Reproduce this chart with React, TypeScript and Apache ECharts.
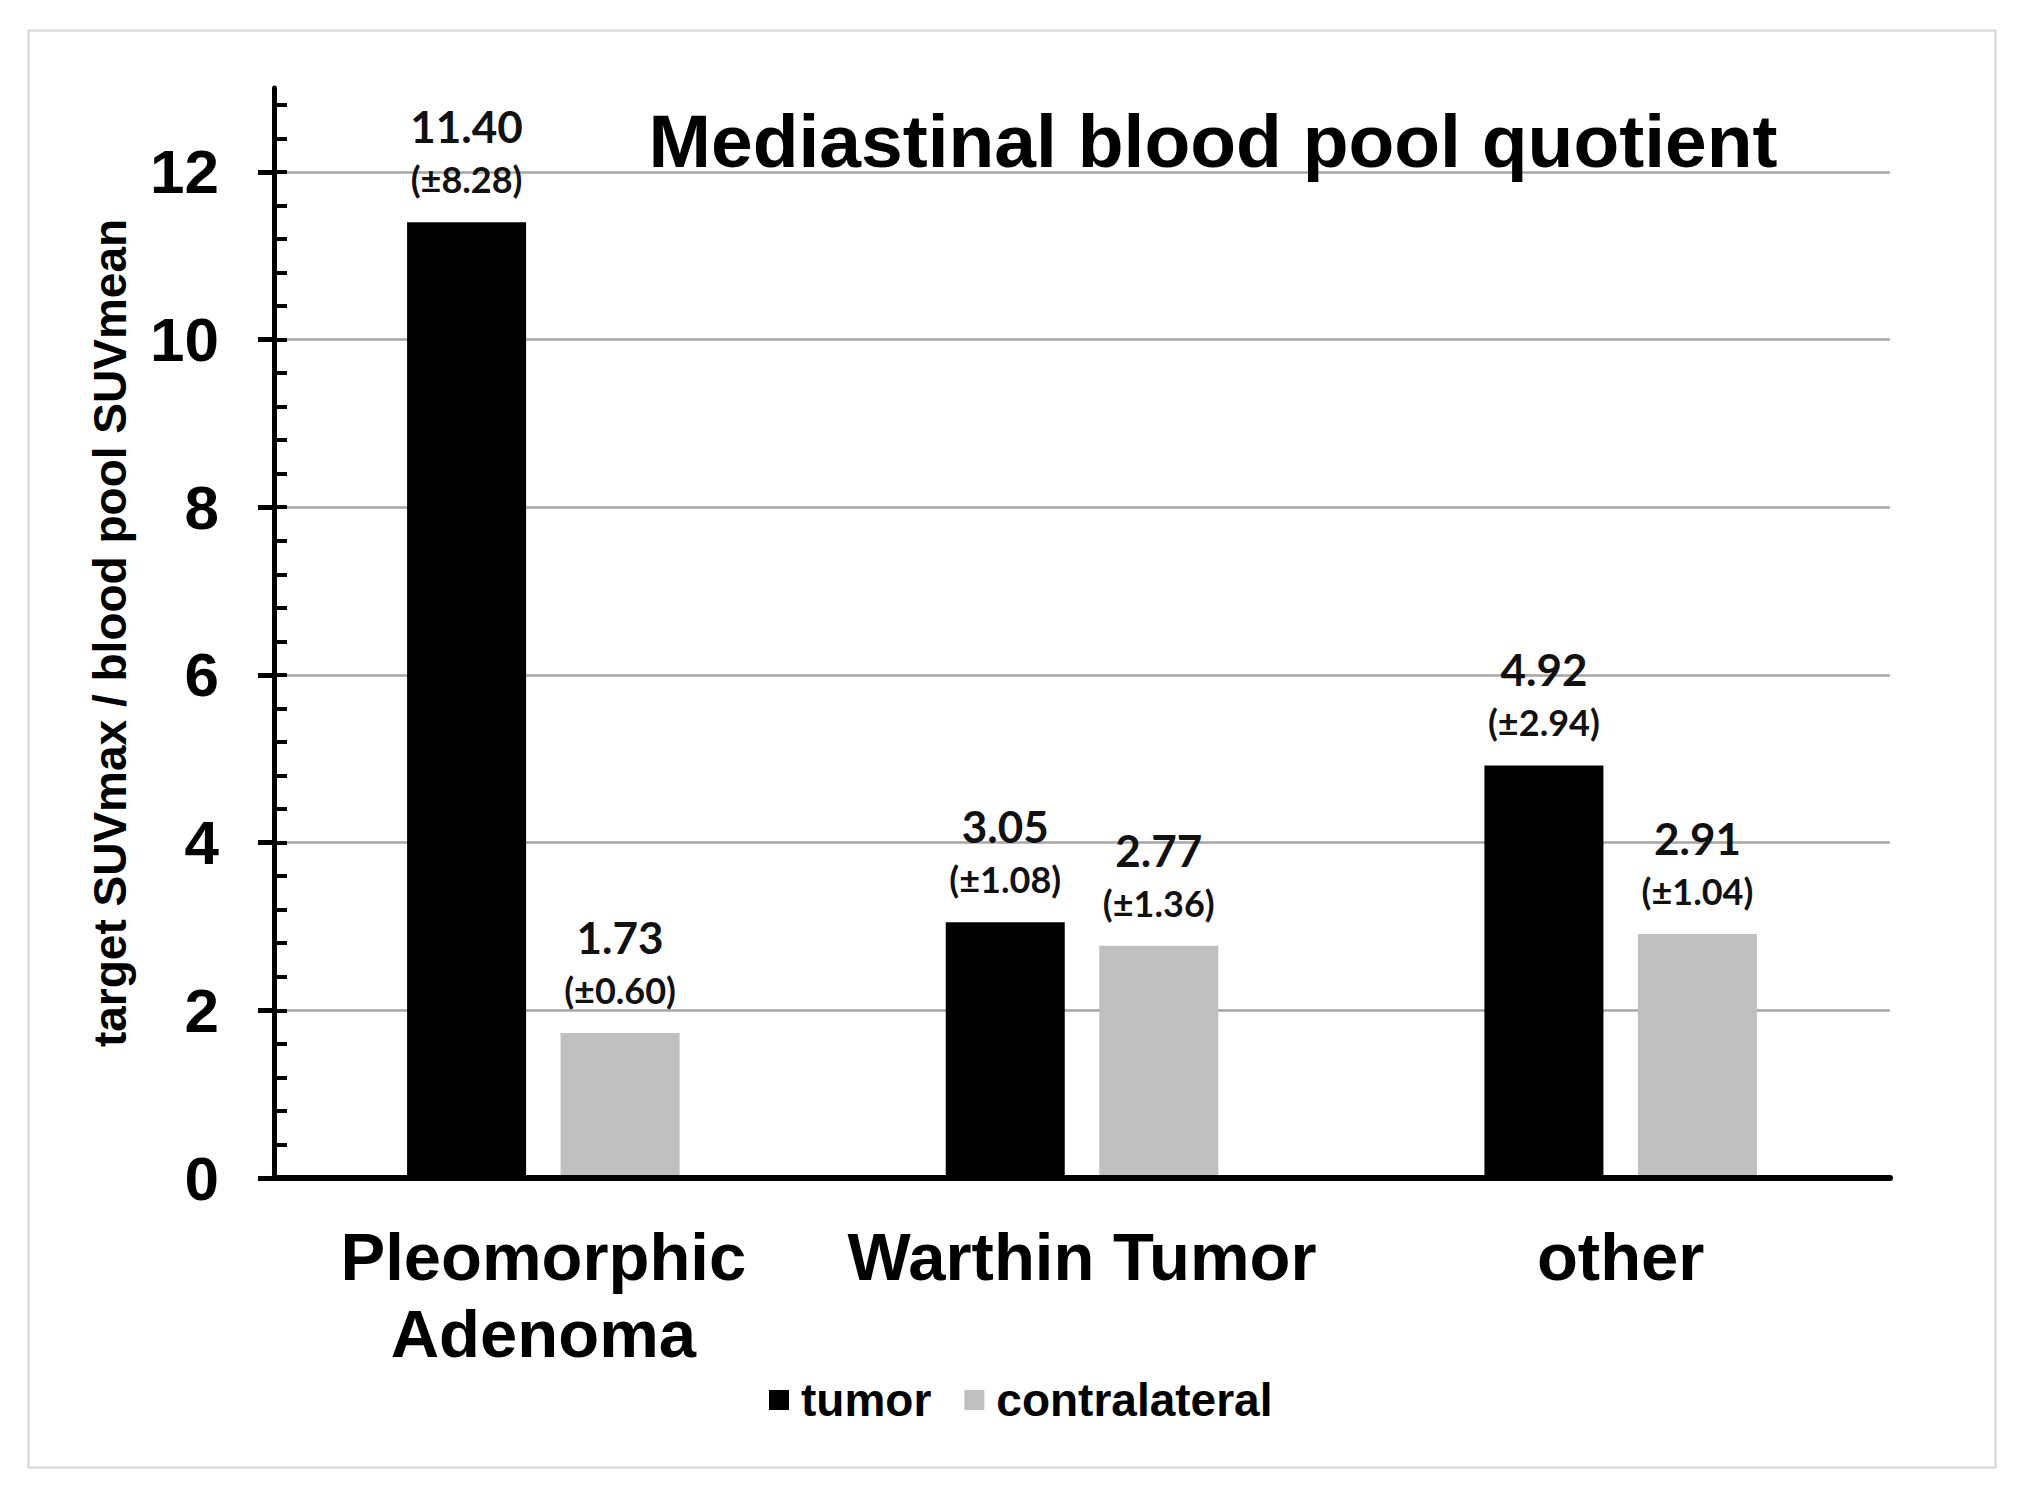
import React, { useEffect, useRef } from 'react';
import * as echarts from 'echarts';

const categories = ['Pleomorphic\nAdenoma', 'Warthin Tumor', 'other'];
const seriesNames = ['tumor', 'contralateral'];
const tumorMeans = [11.4, 3.05, 4.92];
const tumorSDs = [8.28, 1.08, 2.94];
const contraMeans = [1.73, 2.77, 2.91];
const contraSDs = [0.6, 1.36, 1.04];
const majorTicks = [0, 2, 4, 6, 8, 10, 12];
const minorTicks = [
  0, 0.4, 0.8, 1.2, 1.6, 2, 2.4, 2.8, 3.2, 3.6, 4, 4.4, 4.8, 5.2, 5.6, 6, 6.4,
  6.8, 7.2, 7.6, 8, 8.4, 8.8, 9.2, 9.6, 10, 10.4, 10.8, 11.2, 11.6, 12, 12.4, 12.8,
];
const yMin = 0;
const yMax = 13;
const titleText = 'Mediastinal blood pool quotient';
const yAxisName = 'target SUVmax / blood pool SUVmean';

const SANS = '"Liberation Sans", Arial, sans-serif';
const LABEL_FONT = 'Lato, "Liberation Sans", sans-serif';

function makeLabel(sds: number[]) {
  return {
    show: true,
    position: 'top',
    distance: 18,
    formatter: (p: any) =>
      `{a|${Number(p.value).toFixed(2)}}\n{b|(±${sds[p.dataIndex].toFixed(2)})}`,
    rich: {
      a: { fontFamily: LABEL_FONT, fontSize: 44, fontWeight: 'bold', color: '#111', lineHeight: 56, align: 'center' },
      b: { fontFamily: LABEL_FONT, fontSize: 36, fontWeight: 'bold', color: '#111', lineHeight: 50, align: 'center' },
    },
  };
}

export default function App() {
  const ref = useRef<HTMLDivElement>(null);
  useEffect(() => {
    const chart = echarts.init(ref.current!, null, { renderer: 'svg' });
    const option: any = {
      animation: false,
      backgroundColor: '#ffffff',
      textStyle: { fontFamily: SANS },
      title: {
        text: titleText,
        left: 1213,
        top: 98,
        textAlign: 'center',
        padding: 0,
        textStyle: { fontFamily: SANS, fontSize: 75, fontWeight: 'bold', color: '#000', lineHeight: 86 },
      },
      graphic: [
        {
          type: 'rect',
          left: 26,
          top: 28,
          shape: { x: 0, y: 0, width: 1967, height: 1437 },
          style: { fill: 'none', stroke: '#d6d6d6', lineWidth: 2 },
          silent: true,
          z: -1,
        },
      ],
      legend: {
        data: seriesNames,
        left: 769,
        top: 1377,
        icon: 'rect',
        itemWidth: 20,
        itemHeight: 20,
        itemGap: 33,
        padding: 0,
        textStyle: {
          fontFamily: SANS,
          fontSize: 46,
          fontWeight: 'bold',
          color: '#000',
          lineHeight: 46,
          padding: [0, 0, 0, 7],
        },
      },
      grid: { left: 274, right: 129, top: 88, bottom: 315, containLabel: false },
      xAxis: {
        type: 'category',
        data: categories,
        z: 10,
        axisLine: { show: true, lineStyle: { color: '#000', width: 6 } },
        axisTick: { show: false },
        axisLabel: {
          margin: 40,
          fontFamily: SANS,
          fontSize: 67,
          fontWeight: 'bold',
          color: '#000',
          lineHeight: 77,
          interval: 0,
        },
        splitLine: { show: false },
      },
      yAxis: [
        {
          type: 'value',
          position: 'left',
          min: yMin,
          max: yMax,
          interval: 2,
          name: yAxisName,
          nameLocation: 'middle',
          nameGap: 141,
          nameTextStyle: { fontFamily: SANS, fontSize: 46, fontWeight: 'bold', color: '#000' },
          axisLine: { show: true, lineStyle: { color: '#000', width: 5 } },
          axisTick: {
            show: true,
            inside: false,
            length: 16,
            customValues: majorTicks,
            lineStyle: { color: '#000', width: 5 },
          },
          axisLabel: {
            margin: 55,
            fontFamily: SANS,
            fontSize: 62,
            fontWeight: 'bold',
            color: '#000',
            customValues: majorTicks,
            formatter: (v: number) => (v > 12 ? '' : String(v)),
          },
          splitLine: { show: true, lineStyle: { color: '#a6a6a6', width: 2.5 } },
        },
        {
          type: 'value',
          position: 'left',
          offset: 0,
          min: yMin,
          max: yMax,
          interval: 0.4,
          axisLine: { show: false },
          axisLabel: { show: false },
          splitLine: { show: false },
          axisTick: {
            show: true,
            inside: true,
            length: 13,
            customValues: minorTicks,
            lineStyle: { color: '#000', width: 4 },
          },
        },
      ],
      series: [
        {
          name: seriesNames[0],
          type: 'bar',
          yAxisIndex: 0,
          data: tumorMeans,
          barWidth: 119,
          barGap: '29%',
          itemStyle: { color: '#000000' },
          label: makeLabel(tumorSDs),
        },
        {
          name: seriesNames[1],
          type: 'bar',
          yAxisIndex: 0,
          data: contraMeans,
          barWidth: 119,
          barGap: '29%',
          itemStyle: { color: '#bfbfbf' },
          label: makeLabel(contraSDs),
        },
      ],
    };
    chart.setOption(option);
    return () => chart.dispose();
  }, []);
  return (
    <div
      ref={ref}
      style={{ position: 'absolute', left: 0, top: 0, width: 2019, height: 1493, background: '#fff' }}
    />
  );
}
